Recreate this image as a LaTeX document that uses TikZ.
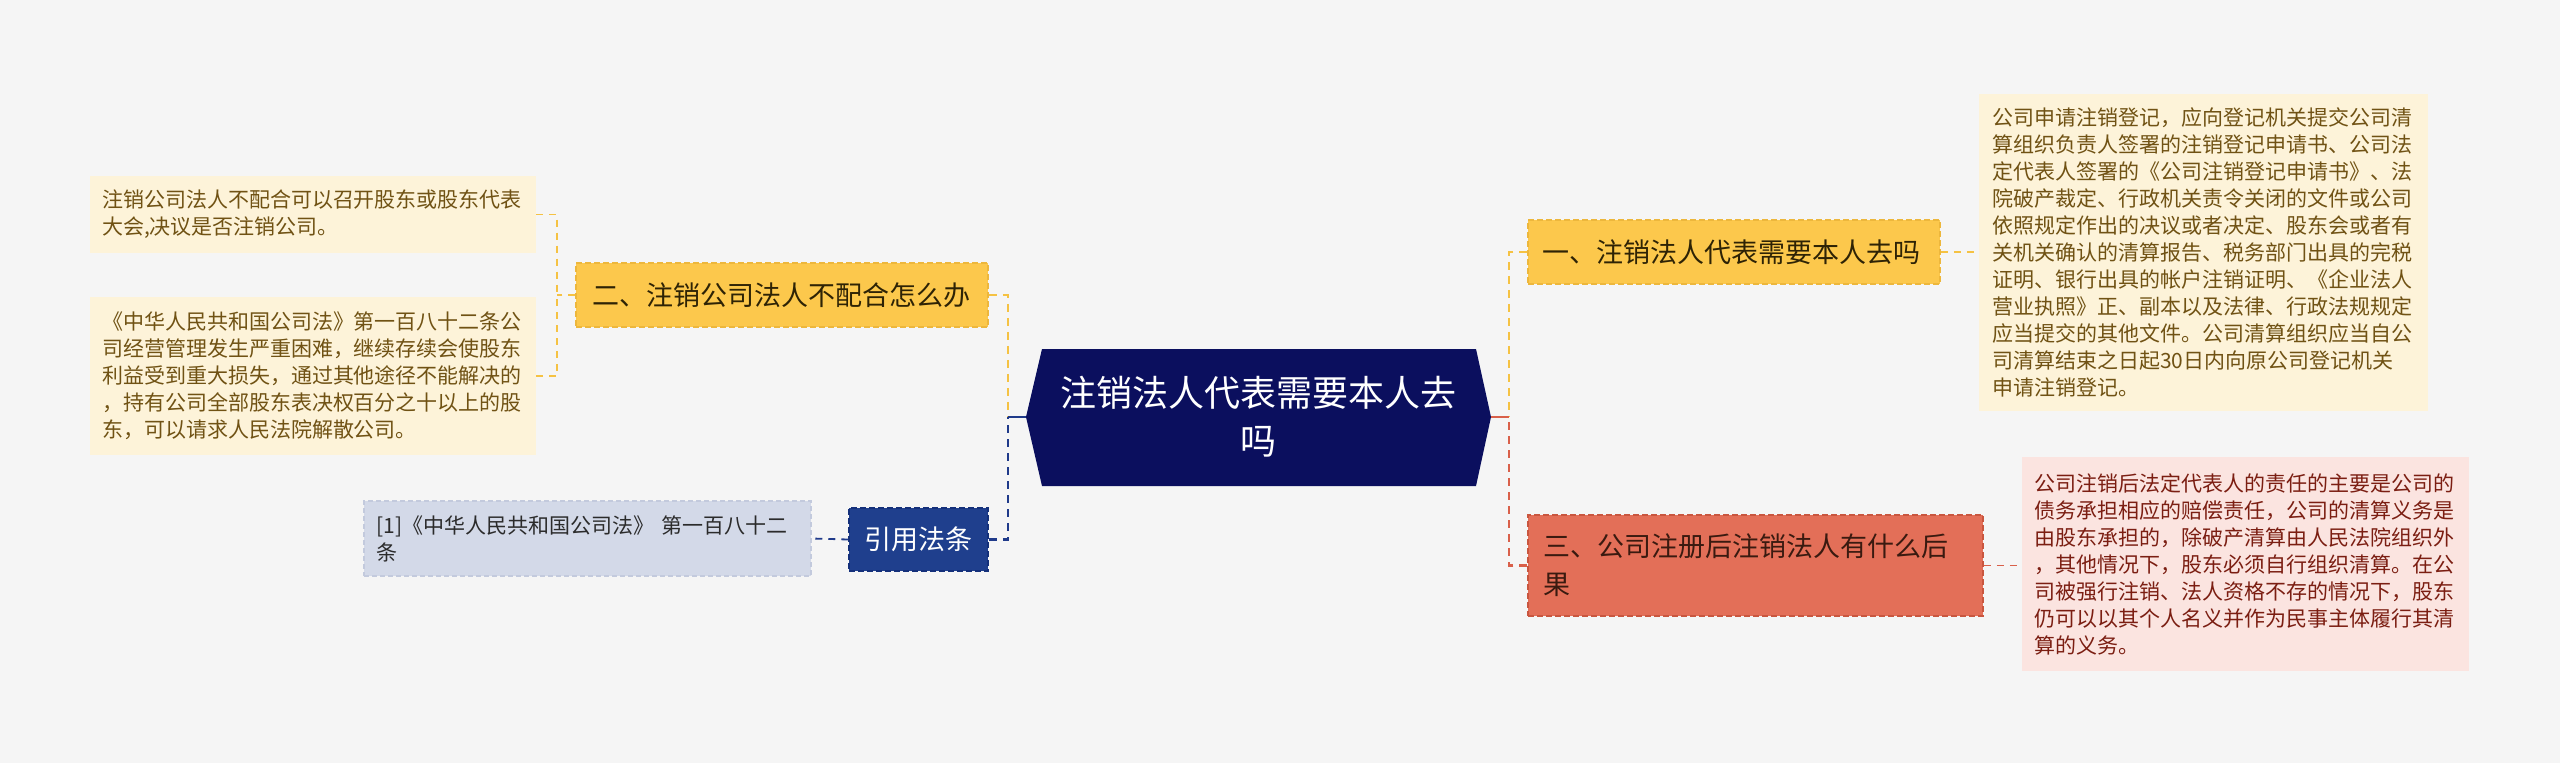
\documentclass[tikz,border=0pt]{standalone}
\usepackage{fontspec}
\newfontfamily\cjk{Noto Sans CJK SC}
\definecolor{bg}{HTML}{F5F5F5}
\definecolor{gold}{HTML}{FCC84C}
\definecolor{goldb}{HTML}{EDB73C}
\definecolor{goldl}{HTML}{F5C243}
\definecolor{goldt}{HTML}{2E2305}
\definecolor{cream}{HTML}{FDF3D9}
\definecolor{creamt}{HTML}{705214}
\definecolor{navy}{HTML}{0B0F5E}
\definecolor{bluen}{HTML}{1F3F8D}
\definecolor{blueb}{HTML}{14307A}
\definecolor{bluel}{HTML}{1F3A8A}
\definecolor{greyl}{HTML}{D3D9E8}
\definecolor{greylb}{HTML}{C3CADD}
\definecolor{greyt}{HTML}{2B2B2B}
\definecolor{redn}{HTML}{E36F58}
\definecolor{redb}{HTML}{C9563F}
\definecolor{redl}{HTML}{D9604A}
\definecolor{redt}{HTML}{3A1A10}
\definecolor{pinkl}{HTML}{FBE4E0}
\definecolor{pinkt}{HTML}{7B1E12}
\begin{document}
\begin{tikzpicture}[x=1pt,y=-1pt,
  mainbox/.style={rectangle, inner sep=0pt, font=\cjk\fontsize{27}{38}\selectfont, align=left, line width=1.5pt, dash pattern=on 6pt off 3pt},
  leafbox/.style={rectangle, inner sep=0pt, font=\cjk\fontsize{21}{27}\selectfont, align=left},
  conn/.style={line width=2.6pt, dash pattern=on 8pt off 6pt},
  leafconn/.style={line width=1.8pt, dash pattern=on 7pt off 6pt},
  solidconn/.style={line width=2.6pt}]
\useasboundingbox (0,0) rectangle (2560,763);
\fill[bg] (0,0) rectangle (2560,763);

% central hexagon
\coordinate (cl) at (1026,417);
\coordinate (cr) at (1491,417);
\fill[navy] (cl) -- (1042,349) -- (1476,349) -- (cr) -- (1476,486) -- (1042,486) -- cycle;
\node[font=\cjk\fontsize{36}{48}\selectfont, text=white, align=center, inner sep=0pt] (c) at (1258.5,417) {注销法人代表需要本人去\\吗};

% main topics
\node[mainbox, fill=gold, draw=goldb, text=goldt, minimum width=412pt, minimum height=64pt, text width=380pt] (n2) at (782,295) {二、注销公司法人不配合怎么办};
\node[mainbox, fill=bluen, draw=blueb, text=white, align=center, minimum width=139pt, minimum height=63pt] (ny) at (918.5,539.5) {引用法条};
\node[mainbox, fill=gold, draw=goldb, text=goldt, minimum width=412pt, minimum height=64pt, text width=384pt] (n1) at (1734,252) {一、注销法人代表需要本人去吗};
\node[mainbox, fill=redn, draw=redb, text=redt, minimum width=455pt, minimum height=101pt, text width=425pt] (n3) at (1755.5,565.5) {三、公司注册后注销法人有什么后\\果};

% leaves
\node[leafbox, fill=cream, text=creamt, minimum width=446pt, minimum height=77pt, text width=422pt] (l1) at (313,214.5) {注销公司法人不配合可以召开股东或股东代表\\大会,决议是否注销公司。};
\node[leafbox, fill=cream, text=creamt, minimum width=446pt, minimum height=158pt, text width=422pt] (l2) at (313,376) {《中华人民共和国公司法》第一百八十二条公\\司经营管理发生严重困难，继续存续会使股东\\利益受到重大损失，通过其他途径不能解决的\\，持有公司全部股东表决权百分之十以上的股\\东，可以请求人民法院解散公司。};
\node[leafbox, fill=greyl, draw=greylb, line width=1.2pt, dash pattern=on 5pt off 3pt, text=greyt, minimum width=447pt, minimum height=75pt, text width=422pt] (ly) at (587.5,538.5) {[1]《中华人民共和国公司法》 第一百八十二\\条};
\node[leafbox, fill=cream, text=creamt, minimum width=449pt, minimum height=317pt, text width=423pt] (r1) at (2203.5,252.5) {公司申请注销登记，应向登记机关提交公司清\\算组织负责人签署的注销登记申请书、公司法\\定代表人签署的《公司注销登记申请书》、法\\院破产裁定、行政机关责令关闭的文件或公司\\依照规定作出的决议或者决定、股东会或者有\\关机关确认的清算报告、税务部门出具的完税\\证明、银行出具的帐户注销证明、《企业法人\\营业执照》正、副本以及法律、行政法规规定\\应当提交的其他文件。公司清算组织应当自公\\司清算结束之日起30日内向原公司登记机关\\申请注销登记。};
\node[leafbox, fill=pinkl, text=pinkt, minimum width=447pt, minimum height=214pt, text width=423pt] (r3) at (2245.5,564) {公司注销后法定代表人的责任的主要是公司的\\债务承担相应的赔偿责任，公司的清算义务是\\由股东承担的，除破产清算由人民法院组织外\\，其他情况下，股东必须自行组织清算。在公\\司被强行注销、法人资格不存的情况下，股东\\仍可以以其个人名义并作为民事主体履行其清\\算的义务。};

% connector junctions
\coordinate (lv) at (1008,417);
\coordinate (rv) at (1509,417);
\coordinate (lb) at (557,295);

% center to main topics
\draw[conn, goldl] (n2.east) -| (lv);
\draw[conn, bluel] (ny.east) -| (lv);
\draw[solidconn, bluel] (lv) -- (cl);
\draw[conn, goldl] (n1.west) -| (rv);
\draw[conn, redl] (n3.west) -| (rv);
\draw[solidconn, redl] (cr) -- (rv);

% main topics to leaves
\draw[leafconn, goldl] (n2.west) -- (lb);
\draw[leafconn, goldl] (l1.east) -| (lb);
\draw[leafconn, goldl] (l2.east) -| (lb);
\draw[leafconn, bluel] (ny.west) -- (ly.east);
\draw[leafconn, goldl] (n1.east) -- (r1.west |- n1.east);
\draw[leafconn, redl] (n3.east) -- (r3.west |- n3.east);
\end{tikzpicture}
\end{document}
